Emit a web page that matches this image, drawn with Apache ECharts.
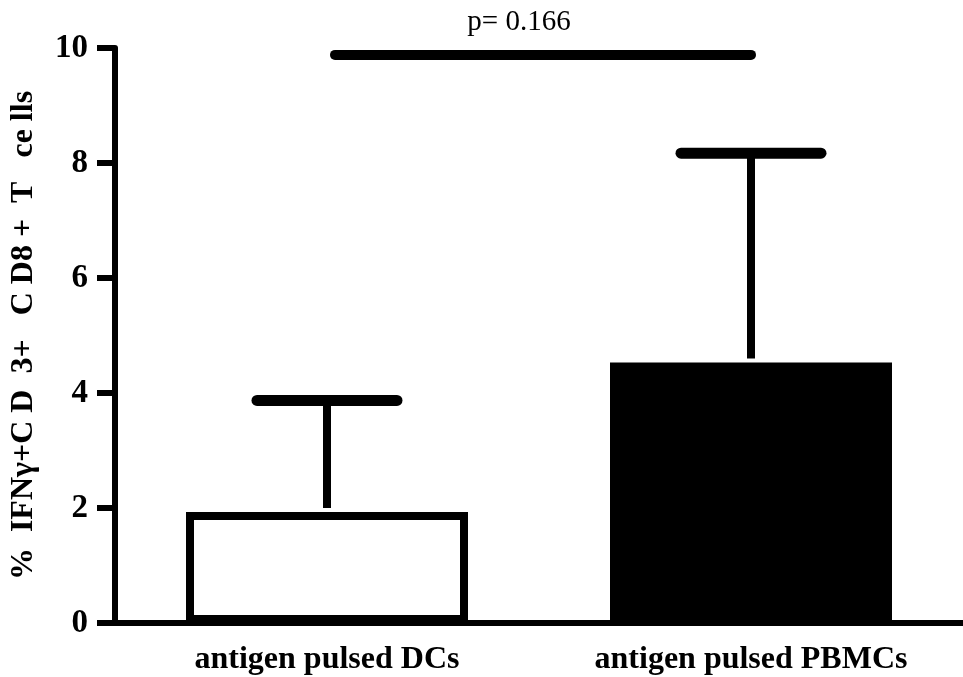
<!DOCTYPE html>
<html>
<head>
<meta charset="utf-8">
<script src="https://cdn.jsdelivr.net/npm/echarts@6/dist/echarts.min.js"></script>
<style>
  html, body { margin: 0; padding: 0; background: #fff; }
  #chart { width: 963px; height: 677px; }
</style>
</head>
<body>
<div id="chart"></div>
<script>
// Group names along the x axis
const categories = ['antigen pulsed DCs', 'antigen pulsed PBMCs'];
// Mean percentage of IFNγ+ CD3+ CD8+ T cells per group
const means = [1.93, 4.53];
// Top of the error bar (mean + SD) per group
const upperErr = [3.87, 8.17];
// Bar fill per group
const barFills = ['#ffffff', '#000000'];
// y-axis ticks
const yTicks = [0, 2, 4, 6, 8, 10];
// Significance bracket between the two groups
const sigLevel = [9.88];
const sigText = ['p= 0.166'];

const serif = '"Liberation Serif", "Times New Roman", serif';

const chart = echarts.init(document.getElementById('chart'), null, { renderer: 'canvas' });

const option = {
  animation: false,
  backgroundColor: '#ffffff',
  grid: { left: 115, right: -6, top: 48, bottom: 54, containLabel: false },
  xAxis: {
    type: 'category',
    data: categories,
    boundaryGap: true,
    axisLine: { lineStyle: { color: '#000', width: 6 } },
    axisTick: { alignWithLabel: true, length: 14, lineStyle: { color: '#000', width: 4 } },
    axisLabel: {
      margin: 21,
      color: '#000',
      fontFamily: serif,
      fontWeight: 'bold',
      fontSize: 32
    },
    splitLine: { show: false }
  },
  yAxis: {
    type: 'value',
    min: yTicks[0],
    max: yTicks[yTicks.length - 1],
    interval: yTicks[1] - yTicks[0],
    name: '%  IFNγ+C D  3+   C D8 +  T   ce lls',
    nameLocation: 'middle',
    nameRotate: 90,
    nameGap: 75,
    nameTextStyle: {
      color: '#000',
      fontFamily: serif,
      fontWeight: 'bold',
      fontSize: 32
    },
    axisLine: { show: true, lineStyle: { color: '#000', width: 6 } },
    axisTick: { show: true, length: 18, lineStyle: { color: '#000', width: 6 } },
    axisLabel: {
      margin: 27,
      color: '#000',
      fontFamily: serif,
      fontWeight: 'bold',
      fontSize: 33
    },
    splitLine: { show: false }
  },
  series: [
    {
      type: 'bar',
      barWidth: 282,
      z: 2,
      data: means.map((v, i) => ({
        value: v,
        itemStyle: { color: barFills[i], borderColor: '#000', borderWidth: 8 }
      }))
    },
    {
      // error bars: stem from the mean up to mean + SD, capped
      type: 'custom',
      z: 3,
      data: categories.map((c, i) => [i, means[i], upperErr[i]]),
      renderItem: function (params, api) {
        const base = api.coord([api.value(0), api.value(1)]);
        const top = api.coord([api.value(0), api.value(2)]);
        const half = 70;
        return {
          type: 'group',
          children: [
            {
              type: 'line',
              shape: { x1: base[0], y1: base[1] - 4, x2: top[0], y2: top[1] },
              style: { stroke: '#000', lineWidth: 8 }
            },
            {
              type: 'line',
              shape: { x1: top[0] - half, y1: top[1], x2: top[0] + half, y2: top[1] },
              style: { stroke: '#000', lineWidth: 11, lineCap: 'round' }
            }
          ]
        };
      }
    },
    {
      // significance bracket with its p value
      type: 'custom',
      z: 4,
      data: sigLevel.map((y, k) => [0, 1, y, k]),
      renderItem: function (params, api) {
        const a = api.coord([api.value(0), api.value(2)]);
        const b = api.coord([api.value(1), api.value(2)]);
        const mid = (a[0] + b[0]) / 2;
        return {
          type: 'group',
          children: [
            {
              type: 'line',
              shape: { x1: a[0] + 8, y1: a[1], x2: b[0], y2: b[1] },
              style: { stroke: '#000', lineWidth: 10, lineCap: 'round' }
            },
            {
              type: 'text',
              style: {
                x: mid - 20,
                y: a[1] - 18,
                text: sigText[api.value(3)],
                fill: '#000',
                font: '29px ' + serif,
                align: 'center',
                verticalAlign: 'bottom'
              }
            }
          ]
        };
      }
    }
  ]
};

chart.setOption(option);
</script>
</body>
</html>
